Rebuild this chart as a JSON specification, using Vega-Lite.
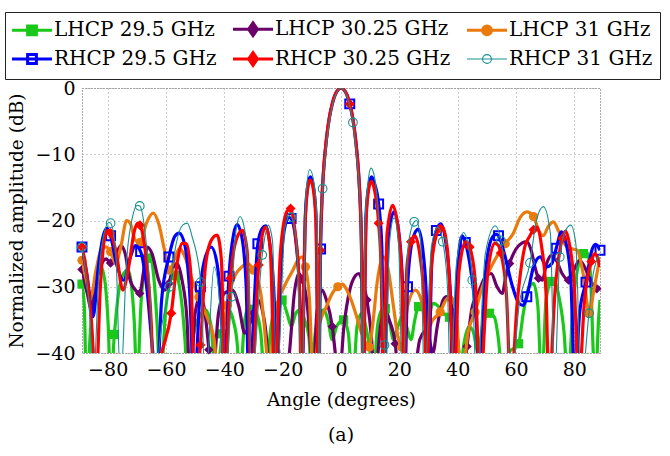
{
  "$schema": "https://vega.github.io/schema/vega-lite/v6.json",
  "width": 518,
  "height": 265,
  "autosize": {"type": "none"},
  "padding": {"left": 82, "top": 88, "right": 70, "bottom": 103},
  "background": "white",
  "config": {
    "font": "DejaVu Serif",
    "view": {"stroke": "#555", "strokeDash": [1, 2], "strokeWidth": 1},
    "axis": {
      "labelFont": "DejaVu Serif", "labelFontSize": 19, "labelColor": "#000",
      "titleFont": "DejaVu Serif", "titleFontSize": 18.5, "titleFontWeight": "normal", "titleColor": "#000",
      "grid": true, "gridColor": "#999", "gridDash": [1, 3], "gridWidth": 1,
      "domain": false, "ticks": false
    },
    "legend": {
      "symbolSize": 1600, "labelFont": "DejaVu Serif", "labelFontSize": 20, "labelColor": "#000",
      "symbolOffset": 10, "labelOffset": 12, "columnPadding": 10, "rowPadding": 4, "padding": 7,
      "strokeColor": "#222", "fillColor": "#fff", "labelLimit": 400
    }
  },
  "datasets": {
    "curves": [
      {"s":"LHCP 29.5 GHz","a":-88.8,"db":-29.6,"m":1},{"s":"LHCP 29.5 GHz","a":-88.0,"db":-33},{"s":"LHCP 29.5 GHz","a":-87.3,"db":-45},{"s":"LHCP 29.5 GHz","a":-85.5,"db":-34},{"s":"LHCP 29.5 GHz","a":-83.8,"db":-28.5},{"s":"LHCP 29.5 GHz","a":-82.3,"db":-27},{"s":"LHCP 29.5 GHz","a":-81.0,"db":-29},{"s":"LHCP 29.5 GHz","a":-79.8,"db":-36},{"s":"LHCP 29.5 GHz","a":-79.0,"db":-45},{"s":"LHCP 29.5 GHz","a":-77.7,"db":-37.2,"m":1},{"s":"LHCP 29.5 GHz","a":-76.3,"db":-31},{"s":"LHCP 29.5 GHz","a":-74.5,"db":-28},{"s":"LHCP 29.5 GHz","a":-73.0,"db":-27.5},{"s":"LHCP 29.5 GHz","a":-71.8,"db":-30},{"s":"LHCP 29.5 GHz","a":-70.8,"db":-36},{"s":"LHCP 29.5 GHz","a":-70.0,"db":-45},{"s":"LHCP 29.5 GHz","a":-68.5,"db":-32},{"s":"LHCP 29.5 GHz","a":-66.6,"db":-25.7,"m":1},{"s":"LHCP 29.5 GHz","a":-65.5,"db":-25.2},{"s":"LHCP 29.5 GHz","a":-64.3,"db":-28},{"s":"LHCP 29.5 GHz","a":-63.0,"db":-36},{"s":"LHCP 29.5 GHz","a":-62.0,"db":-45},{"s":"LHCP 29.5 GHz","a":-60.0,"db":-33},{"s":"LHCP 29.5 GHz","a":-58.0,"db":-28.5},{"s":"LHCP 29.5 GHz","a":-57.0,"db":-28},{"s":"LHCP 29.5 GHz","a":-56.4,"db":-28.3,"m":1},{"s":"LHCP 29.5 GHz","a":-55.0,"db":-31},{"s":"LHCP 29.5 GHz","a":-53.5,"db":-38},{"s":"LHCP 29.5 GHz","a":-52.5,"db":-45},{"s":"LHCP 29.5 GHz","a":-50.5,"db":-37},{"s":"LHCP 29.5 GHz","a":-48.5,"db":-34.5},{"s":"LHCP 29.5 GHz","a":-46.5,"db":-33.5},{"s":"LHCP 29.5 GHz","a":-44.5,"db":-36},{"s":"LHCP 29.5 GHz","a":-43.0,"db":-45},{"s":"LHCP 29.5 GHz","a":-40.7,"db":-37.1,"m":1},{"s":"LHCP 29.5 GHz","a":-38.5,"db":-33.5},{"s":"LHCP 29.5 GHz","a":-37.0,"db":-35},{"s":"LHCP 29.5 GHz","a":-35.5,"db":-39},{"s":"LHCP 29.5 GHz","a":-34.8,"db":-45},{"s":"LHCP 29.5 GHz","a":-33.0,"db":-35},{"s":"LHCP 29.5 GHz","a":-31.5,"db":-33},{"s":"LHCP 29.5 GHz","a":-30.5,"db":-33.4,"m":1},{"s":"LHCP 29.5 GHz","a":-29.0,"db":-34},{"s":"LHCP 29.5 GHz","a":-27.5,"db":-37},{"s":"LHCP 29.5 GHz","a":-26.0,"db":-45},{"s":"LHCP 29.5 GHz","a":-24.0,"db":-36},{"s":"LHCP 29.5 GHz","a":-22.0,"db":-32.5},{"s":"LHCP 29.5 GHz","a":-20.2,"db":-32.0,"m":1},{"s":"LHCP 29.5 GHz","a":-18.5,"db":-34},{"s":"LHCP 29.5 GHz","a":-17.0,"db":-36},{"s":"LHCP 29.5 GHz","a":-15.5,"db":-34},{"s":"LHCP 29.5 GHz","a":-14.0,"db":-33.5},{"s":"LHCP 29.5 GHz","a":-12.5,"db":-35},{"s":"LHCP 29.5 GHz","a":-11.0,"db":-37.5},{"s":"LHCP 29.5 GHz","a":-10.0,"db":-45},{"s":"LHCP 29.5 GHz","a":-9.3,"db":-39.1,"m":1},{"s":"LHCP 29.5 GHz","a":-8.0,"db":-35},{"s":"LHCP 29.5 GHz","a":-6.0,"db":-33.5},{"s":"LHCP 29.5 GHz","a":-4.5,"db":-35},{"s":"LHCP 29.5 GHz","a":-3.0,"db":-38},{"s":"LHCP 29.5 GHz","a":-1.5,"db":-36},{"s":"LHCP 29.5 GHz","a":0.9,"db":-35.0,"m":1},{"s":"LHCP 29.5 GHz","a":2.5,"db":-37},{"s":"LHCP 29.5 GHz","a":4.0,"db":-45},{"s":"LHCP 29.5 GHz","a":5.5,"db":-36},{"s":"LHCP 29.5 GHz","a":7.0,"db":-34},{"s":"LHCP 29.5 GHz","a":8.5,"db":-36},{"s":"LHCP 29.5 GHz","a":10.0,"db":-40},{"s":"LHCP 29.5 GHz","a":11.0,"db":-45},{"s":"LHCP 29.5 GHz","a":12.5,"db":-36},{"s":"LHCP 29.5 GHz","a":14.0,"db":-33.5},{"s":"LHCP 29.5 GHz","a":15.2,"db":-33.3,"m":1},{"s":"LHCP 29.5 GHz","a":16.5,"db":-35},{"s":"LHCP 29.5 GHz","a":18.0,"db":-38},{"s":"LHCP 29.5 GHz","a":19.5,"db":-36},{"s":"LHCP 29.5 GHz","a":21.0,"db":-34.5},{"s":"LHCP 29.5 GHz","a":22.5,"db":-36},{"s":"LHCP 29.5 GHz","a":24.0,"db":-38},{"s":"LHCP 29.5 GHz","a":25.3,"db":-35},{"s":"LHCP 29.5 GHz","a":26.6,"db":-33.0,"m":1},{"s":"LHCP 29.5 GHz","a":28.2,"db":-33.2},{"s":"LHCP 29.5 GHz","a":29.8,"db":-35},{"s":"LHCP 29.5 GHz","a":31.5,"db":-32.5},{"s":"LHCP 29.5 GHz","a":33.0,"db":-32.8},{"s":"LHCP 29.5 GHz","a":35.0,"db":-34},{"s":"LHCP 29.5 GHz","a":37.2,"db":-34.6,"m":1},{"s":"LHCP 29.5 GHz","a":39.0,"db":-38},{"s":"LHCP 29.5 GHz","a":40.5,"db":-45},{"s":"LHCP 29.5 GHz","a":42.0,"db":-39},{"s":"LHCP 29.5 GHz","a":44.0,"db":-36},{"s":"LHCP 29.5 GHz","a":45.5,"db":-37},{"s":"LHCP 29.5 GHz","a":47.0,"db":-40},{"s":"LHCP 29.5 GHz","a":48.5,"db":-36},{"s":"LHCP 29.5 GHz","a":50.9,"db":-34.0,"m":1},{"s":"LHCP 29.5 GHz","a":52.5,"db":-34.5},{"s":"LHCP 29.5 GHz","a":54.0,"db":-38},{"s":"LHCP 29.5 GHz","a":55.5,"db":-45},{"s":"LHCP 29.5 GHz","a":57.5,"db":-40},{"s":"LHCP 29.5 GHz","a":60.9,"db":-38.6,"m":1},{"s":"LHCP 29.5 GHz","a":62.5,"db":-34},{"s":"LHCP 29.5 GHz","a":64.5,"db":-30},{"s":"LHCP 29.5 GHz","a":66.0,"db":-29.5},{"s":"LHCP 29.5 GHz","a":67.5,"db":-33},{"s":"LHCP 29.5 GHz","a":68.8,"db":-45},{"s":"LHCP 29.5 GHz","a":70.3,"db":-32},{"s":"LHCP 29.5 GHz","a":71.9,"db":-29.2,"m":1},{"s":"LHCP 29.5 GHz","a":72.8,"db":-28.8},{"s":"LHCP 29.5 GHz","a":74.5,"db":-31},{"s":"LHCP 29.5 GHz","a":76.5,"db":-37},{"s":"LHCP 29.5 GHz","a":77.8,"db":-45},{"s":"LHCP 29.5 GHz","a":79.5,"db":-33},{"s":"LHCP 29.5 GHz","a":81.5,"db":-26.5},{"s":"LHCP 29.5 GHz","a":83.1,"db":-25.0,"m":1},{"s":"LHCP 29.5 GHz","a":84.3,"db":-24.8},{"s":"LHCP 29.5 GHz","a":85.5,"db":-28},{"s":"LHCP 29.5 GHz","a":86.5,"db":-40},{"s":"LHCP 29.5 GHz","a":87.2,"db":-45},{"s":"LHCP 29.5 GHz","a":88.3,"db":-35},{"s":"LHCP 29.5 GHz","a":88.8,"db":-32},

      {"s":"LHCP 30.25 GHz","a":-88.8,"db":-27.4,"m":1},{"s":"LHCP 30.25 GHz","a":-87.0,"db":-31},{"s":"LHCP 30.25 GHz","a":-85.5,"db":-33.5},{"s":"LHCP 30.25 GHz","a":-83.8,"db":-29},{"s":"LHCP 30.25 GHz","a":-82.0,"db":-26.5},{"s":"LHCP 30.25 GHz","a":-80.5,"db":-25.8},{"s":"LHCP 30.25 GHz","a":-79.0,"db":-26.4,"m":1},{"s":"LHCP 30.25 GHz","a":-77.0,"db":-25},{"s":"LHCP 30.25 GHz","a":-75.5,"db":-23.8},{"s":"LHCP 30.25 GHz","a":-74.0,"db":-25},{"s":"LHCP 30.25 GHz","a":-72.6,"db":-28.5},{"s":"LHCP 30.25 GHz","a":-70.5,"db":-30.5},{"s":"LHCP 30.25 GHz","a":-69.0,"db":-31.0,"m":1},{"s":"LHCP 30.25 GHz","a":-67.8,"db":-28},{"s":"LHCP 30.25 GHz","a":-66.4,"db":-24.0},{"s":"LHCP 30.25 GHz","a":-64.8,"db":-25},{"s":"LHCP 30.25 GHz","a":-62.5,"db":-29},{"s":"LHCP 30.25 GHz","a":-60.5,"db":-30.5},{"s":"LHCP 30.25 GHz","a":-59.0,"db":-29.5,"m":1},{"s":"LHCP 30.25 GHz","a":-57.5,"db":-27},{"s":"LHCP 30.25 GHz","a":-56.2,"db":-26.5},{"s":"LHCP 30.25 GHz","a":-54.5,"db":-29},{"s":"LHCP 30.25 GHz","a":-52.8,"db":-35},{"s":"LHCP 30.25 GHz","a":-51.7,"db":-45},{"s":"LHCP 30.25 GHz","a":-50.0,"db":-34},{"s":"LHCP 30.25 GHz","a":-48.3,"db":-31.5},{"s":"LHCP 30.25 GHz","a":-47.0,"db":-33},{"s":"LHCP 30.25 GHz","a":-45.3,"db":-39.5,"m":1},{"s":"LHCP 30.25 GHz","a":-44.3,"db":-45},{"s":"LHCP 30.25 GHz","a":-42.0,"db":-34},{"s":"LHCP 30.25 GHz","a":-40.0,"db":-31},{"s":"LHCP 30.25 GHz","a":-37.3,"db":-30.5},{"s":"LHCP 30.25 GHz","a":-35.0,"db":-33},{"s":"LHCP 30.25 GHz","a":-33.0,"db":-37},{"s":"LHCP 30.25 GHz","a":-31.6,"db":-36},{"s":"LHCP 30.25 GHz","a":-30.1,"db":-34.0,"m":1},{"s":"LHCP 30.25 GHz","a":-28.5,"db":-32},{"s":"LHCP 30.25 GHz","a":-27.0,"db":-33.5},{"s":"LHCP 30.25 GHz","a":-25.5,"db":-38},{"s":"LHCP 30.25 GHz","a":-24.5,"db":-45},{"s":"LHCP 30.25 GHz","a":-22.0,"db":-38},{"s":"LHCP 30.25 GHz","a":-20.0,"db":-45},{"s":"LHCP 30.25 GHz","a":-17.7,"db":-40},{"s":"LHCP 30.25 GHz","a":-16.0,"db":-31},{"s":"LHCP 30.25 GHz","a":-14.5,"db":-28},{"s":"LHCP 30.25 GHz","a":-13.3,"db":-28.9,"m":1},{"s":"LHCP 30.25 GHz","a":-11.5,"db":-33},{"s":"LHCP 30.25 GHz","a":-10.3,"db":-40},{"s":"LHCP 30.25 GHz","a":-9.5,"db":-45},{"s":"LHCP 30.25 GHz","a":-8.3,"db":-34},{"s":"LHCP 30.25 GHz","a":-6.5,"db":-30.5},{"s":"LHCP 30.25 GHz","a":-5.0,"db":-32},{"s":"LHCP 30.25 GHz","a":-3.0,"db":-36.0,"m":1},{"s":"LHCP 30.25 GHz","a":-1.5,"db":-42},{"s":"LHCP 30.25 GHz","a":-0.8,"db":-45},{"s":"LHCP 30.25 GHz","a":1.0,"db":-36},{"s":"LHCP 30.25 GHz","a":3.0,"db":-30.5},{"s":"LHCP 30.25 GHz","a":5.0,"db":-28.3},{"s":"LHCP 30.25 GHz","a":6.1,"db":-28.0},{"s":"LHCP 30.25 GHz","a":7.5,"db":-29.5},{"s":"LHCP 30.25 GHz","a":8.9,"db":-32.0,"m":1},{"s":"LHCP 30.25 GHz","a":10.5,"db":-38},{"s":"LHCP 30.25 GHz","a":11.5,"db":-45},{"s":"LHCP 30.25 GHz","a":13.5,"db":-36},{"s":"LHCP 30.25 GHz","a":15.0,"db":-33.5},{"s":"LHCP 30.25 GHz","a":16.5,"db":-35},{"s":"LHCP 30.25 GHz","a":18.6,"db":-38.6,"m":1},{"s":"LHCP 30.25 GHz","a":20.0,"db":-45},{"s":"LHCP 30.25 GHz","a":22.0,"db":-40},{"s":"LHCP 30.25 GHz","a":24.5,"db":-45},{"s":"LHCP 30.25 GHz","a":27.0,"db":-38},{"s":"LHCP 30.25 GHz","a":29.5,"db":-36.5},{"s":"LHCP 30.25 GHz","a":31.5,"db":-40},{"s":"LHCP 30.25 GHz","a":33.0,"db":-36},{"s":"LHCP 30.25 GHz","a":35.0,"db":-32},{"s":"LHCP 30.25 GHz","a":36.3,"db":-31.5},{"s":"LHCP 30.25 GHz","a":38.0,"db":-33},{"s":"LHCP 30.25 GHz","a":40.0,"db":-38},{"s":"LHCP 30.25 GHz","a":41.5,"db":-45},{"s":"LHCP 30.25 GHz","a":43.2,"db":-39.0,"m":1},{"s":"LHCP 30.25 GHz","a":45.0,"db":-33},{"s":"LHCP 30.25 GHz","a":47.0,"db":-31},{"s":"LHCP 30.25 GHz","a":49.5,"db":-28.5},{"s":"LHCP 30.25 GHz","a":51.5,"db":-28},{"s":"LHCP 30.25 GHz","a":53.5,"db":-30},{"s":"LHCP 30.25 GHz","a":55.3,"db":-31},{"s":"LHCP 30.25 GHz","a":56.5,"db":-28.5},{"s":"LHCP 30.25 GHz","a":57.8,"db":-26.5,"m":1},{"s":"LHCP 30.25 GHz","a":60.0,"db":-24.3},{"s":"LHCP 30.25 GHz","a":62.0,"db":-23.4},{"s":"LHCP 30.25 GHz","a":63.6,"db":-23.2},{"s":"LHCP 30.25 GHz","a":65.2,"db":-24.5},{"s":"LHCP 30.25 GHz","a":66.5,"db":-27},{"s":"LHCP 30.25 GHz","a":67.7,"db":-28.7,"m":1},{"s":"LHCP 30.25 GHz","a":69.0,"db":-29},{"s":"LHCP 30.25 GHz","a":70.5,"db":-26.5},{"s":"LHCP 30.25 GHz","a":72.0,"db":-25.3},{"s":"LHCP 30.25 GHz","a":73.8,"db":-26},{"s":"LHCP 30.25 GHz","a":75.8,"db":-28},{"s":"LHCP 30.25 GHz","a":78.0,"db":-29.0,"m":1},{"s":"LHCP 30.25 GHz","a":79.8,"db":-27.5},{"s":"LHCP 30.25 GHz","a":81.8,"db":-26},{"s":"LHCP 30.25 GHz","a":83.5,"db":-27},{"s":"LHCP 30.25 GHz","a":85.5,"db":-29},{"s":"LHCP 30.25 GHz","a":87.7,"db":-30.3,"m":1},{"s":"LHCP 30.25 GHz","a":88.8,"db":-30},

      {"s":"LHCP 31 GHz","a":-88.8,"db":-26.0,"m":1},{"s":"LHCP 31 GHz","a":-87.3,"db":-29},{"s":"LHCP 31 GHz","a":-85.8,"db":-31.5},{"s":"LHCP 31 GHz","a":-84.0,"db":-27.5},{"s":"LHCP 31 GHz","a":-82.3,"db":-24.5},{"s":"LHCP 31 GHz","a":-80.6,"db":-24.0},{"s":"LHCP 31 GHz","a":-79.0,"db":-24.7,"m":1},{"s":"LHCP 31 GHz","a":-77.3,"db":-26.5},{"s":"LHCP 31 GHz","a":-75.5,"db":-24},{"s":"LHCP 31 GHz","a":-73.5,"db":-20},{"s":"LHCP 31 GHz","a":-72.2,"db":-20.5},{"s":"LHCP 31 GHz","a":-70.5,"db":-23},{"s":"LHCP 31 GHz","a":-68.8,"db":-23.3,"m":1},{"s":"LHCP 31 GHz","a":-66.8,"db":-20.5},{"s":"LHCP 31 GHz","a":-64.4,"db":-18.9},{"s":"LHCP 31 GHz","a":-62.5,"db":-20.5},{"s":"LHCP 31 GHz","a":-60.5,"db":-24.5},{"s":"LHCP 31 GHz","a":-58.8,"db":-27.5,"m":1},{"s":"LHCP 31 GHz","a":-56.8,"db":-25.5},{"s":"LHCP 31 GHz","a":-55.3,"db":-24.2},{"s":"LHCP 31 GHz","a":-53.5,"db":-25.5},{"s":"LHCP 31 GHz","a":-51.0,"db":-29},{"s":"LHCP 31 GHz","a":-48.7,"db":-31.6,"m":1},{"s":"LHCP 31 GHz","a":-46.0,"db":-34.5},{"s":"LHCP 31 GHz","a":-43.5,"db":-38},{"s":"LHCP 31 GHz","a":-42.0,"db":-45},{"s":"LHCP 31 GHz","a":-40.4,"db":-37},{"s":"LHCP 31 GHz","a":-39.0,"db":-32.8,"m":1},{"s":"LHCP 31 GHz","a":-37.0,"db":-29},{"s":"LHCP 31 GHz","a":-34.0,"db":-27},{"s":"LHCP 31 GHz","a":-32.0,"db":-26.5},{"s":"LHCP 31 GHz","a":-30.0,"db":-27.5,"m":1},{"s":"LHCP 31 GHz","a":-27.5,"db":-31},{"s":"LHCP 31 GHz","a":-25.5,"db":-40},{"s":"LHCP 31 GHz","a":-24.6,"db":-45},{"s":"LHCP 31 GHz","a":-23.3,"db":-37},{"s":"LHCP 31 GHz","a":-22.0,"db":-33.0,"m":1},{"s":"LHCP 31 GHz","a":-19.5,"db":-30},{"s":"LHCP 31 GHz","a":-16.5,"db":-27.5},{"s":"LHCP 31 GHz","a":-14.5,"db":-25.8},{"s":"LHCP 31 GHz","a":-13.3,"db":-25.5},{"s":"LHCP 31 GHz","a":-12.2,"db":-27.0,"m":1},{"s":"LHCP 31 GHz","a":-10.8,"db":-32},{"s":"LHCP 31 GHz","a":-9.5,"db":-45},{"s":"LHCP 31 GHz","a":-7.5,"db":-36},{"s":"LHCP 31 GHz","a":-5.0,"db":-33},{"s":"LHCP 31 GHz","a":-3.0,"db":-31},{"s":"LHCP 31 GHz","a":-1.1,"db":-30.0,"m":1},{"s":"LHCP 31 GHz","a":0.5,"db":-29.6},{"s":"LHCP 31 GHz","a":2.0,"db":-30.5},{"s":"LHCP 31 GHz","a":3.5,"db":-32},{"s":"LHCP 31 GHz","a":5.0,"db":-34},{"s":"LHCP 31 GHz","a":7.5,"db":-37.5},{"s":"LHCP 31 GHz","a":9.7,"db":-39.1,"m":1},{"s":"LHCP 31 GHz","a":10.8,"db":-36},{"s":"LHCP 31 GHz","a":12.5,"db":-29},{"s":"LHCP 31 GHz","a":14.5,"db":-25.5},{"s":"LHCP 31 GHz","a":16.0,"db":-27},{"s":"LHCP 31 GHz","a":18.0,"db":-33},{"s":"LHCP 31 GHz","a":19.5,"db":-37.5},{"s":"LHCP 31 GHz","a":20.8,"db":-39.1,"m":1},{"s":"LHCP 31 GHz","a":22.8,"db":-33},{"s":"LHCP 31 GHz","a":25.5,"db":-30.5},{"s":"LHCP 31 GHz","a":27.5,"db":-32},{"s":"LHCP 31 GHz","a":29.5,"db":-36.5},{"s":"LHCP 31 GHz","a":31.5,"db":-35},{"s":"LHCP 31 GHz","a":34.0,"db":-33.8,"m":1},{"s":"LHCP 31 GHz","a":36.0,"db":-32},{"s":"LHCP 31 GHz","a":37.6,"db":-31.5},{"s":"LHCP 31 GHz","a":39.5,"db":-34},{"s":"LHCP 31 GHz","a":41.3,"db":-45},{"s":"LHCP 31 GHz","a":43.5,"db":-37},{"s":"LHCP 31 GHz","a":46.0,"db":-33.8,"m":1},{"s":"LHCP 31 GHz","a":48.5,"db":-30},{"s":"LHCP 31 GHz","a":51.5,"db":-27},{"s":"LHCP 31 GHz","a":54.0,"db":-25},{"s":"LHCP 31 GHz","a":56.3,"db":-23.5,"m":1},{"s":"LHCP 31 GHz","a":59.0,"db":-22},{"s":"LHCP 31 GHz","a":61.5,"db":-19.5},{"s":"LHCP 31 GHz","a":63.7,"db":-18.7},{"s":"LHCP 31 GHz","a":66.0,"db":-19.4,"m":1},{"s":"LHCP 31 GHz","a":67.8,"db":-21.5},{"s":"LHCP 31 GHz","a":69.3,"db":-22.3},{"s":"LHCP 31 GHz","a":71.2,"db":-20.8},{"s":"LHCP 31 GHz","a":72.8,"db":-20.2},{"s":"LHCP 31 GHz","a":74.5,"db":-21.5},{"s":"LHCP 31 GHz","a":75.8,"db":-22.8,"m":1},{"s":"LHCP 31 GHz","a":77.5,"db":-24},{"s":"LHCP 31 GHz","a":79.5,"db":-24.3},{"s":"LHCP 31 GHz","a":81.0,"db":-24.5},{"s":"LHCP 31 GHz","a":83.0,"db":-28},{"s":"LHCP 31 GHz","a":85.2,"db":-34.0,"m":1},{"s":"LHCP 31 GHz","a":86.5,"db":-31},{"s":"LHCP 31 GHz","a":88.8,"db":-25.5},

      {"s":"RHCP 29.5 GHz","a":-88.8,"db":-24.0,"m":1},{"s":"RHCP 29.5 GHz","a":-87.0,"db":-28.5},{"s":"RHCP 29.5 GHz","a":-85.0,"db":-34.5},{"s":"RHCP 29.5 GHz","a":-83.2,"db":-27.0},{"s":"RHCP 29.5 GHz","a":-81.5,"db":-22.3},{"s":"RHCP 29.5 GHz","a":-80.2,"db":-21.2},{"s":"RHCP 29.5 GHz","a":-79.0,"db":-22.3,"m":1},{"s":"RHCP 29.5 GHz","a":-77.0,"db":-26.5},{"s":"RHCP 29.5 GHz","a":-74.5,"db":-29.0},{"s":"RHCP 29.5 GHz","a":-72.2,"db":-25.5},{"s":"RHCP 29.5 GHz","a":-70.5,"db":-23.8},{"s":"RHCP 29.5 GHz","a":-68.7,"db":-24.7,"m":1},{"s":"RHCP 29.5 GHz","a":-66.5,"db":-30.5},{"s":"RHCP 29.5 GHz","a":-64.5,"db":-40},{"s":"RHCP 29.5 GHz","a":-63.2,"db":-45},{"s":"RHCP 29.5 GHz","a":-61.5,"db":-32},{"s":"RHCP 29.5 GHz","a":-59.0,"db":-25.5,"m":1},{"s":"RHCP 29.5 GHz","a":-57.0,"db":-22.4},{"s":"RHCP 29.5 GHz","a":-55.5,"db":-21.9},{"s":"RHCP 29.5 GHz","a":-53.5,"db":-23.8},{"s":"RHCP 29.5 GHz","a":-52.0,"db":-30},{"s":"RHCP 29.5 GHz","a":-50.3,"db":-45},{"s":"RHCP 29.5 GHz","a":-48.2,"db":-30.0,"m":1},{"s":"RHCP 29.5 GHz","a":-46.5,"db":-25.5},{"s":"RHCP 29.5 GHz","a":-44.5,"db":-24.0},{"s":"RHCP 29.5 GHz","a":-42.5,"db":-26.5},{"s":"RHCP 29.5 GHz","a":-40.8,"db":-36},{"s":"RHCP 29.5 GHz","a":-40.0,"db":-45},{"s":"RHCP 29.5 GHz","a":-38.4,"db":-28.4,"m":1},{"s":"RHCP 29.5 GHz","a":-36.8,"db":-22.0},{"s":"RHCP 29.5 GHz","a":-35.6,"db":-20.6},{"s":"RHCP 29.5 GHz","a":-34.0,"db":-22.5},{"s":"RHCP 29.5 GHz","a":-32.5,"db":-30},{"s":"RHCP 29.5 GHz","a":-31.6,"db":-45},{"s":"RHCP 29.5 GHz","a":-28.5,"db":-23.5,"m":1},{"s":"RHCP 29.5 GHz","a":-27.0,"db":-21.2},{"s":"RHCP 29.5 GHz","a":-25.8,"db":-20.8},{"s":"RHCP 29.5 GHz","a":-24.3,"db":-24.0},{"s":"RHCP 29.5 GHz","a":-22.8,"db":-33},{"s":"RHCP 29.5 GHz","a":-22.2,"db":-45},{"s":"RHCP 29.5 GHz","a":-20.5,"db":-26},{"s":"RHCP 29.5 GHz","a":-18.8,"db":-20.2},{"s":"RHCP 29.5 GHz","a":-17.8,"db":-19.5},{"s":"RHCP 29.5 GHz","a":-17.1,"db":-19.7,"m":1},{"s":"RHCP 29.5 GHz","a":-15.5,"db":-23},{"s":"RHCP 29.5 GHz","a":-14.0,"db":-33},{"s":"RHCP 29.5 GHz","a":-13.4,"db":-45},{"s":"RHCP 29.5 GHz","a":-12.2,"db":-19},{"s":"RHCP 29.5 GHz","a":-11.2,"db":-14.2},{"s":"RHCP 29.5 GHz","a":-10.5,"db":-13.4},{"s":"RHCP 29.5 GHz","a":-9.6,"db":-14.5},{"s":"RHCP 29.5 GHz","a":-8.6,"db":-19},{"s":"RHCP 29.5 GHz","a":-7.6,"db":-45},{"s":"RHCP 29.5 GHz","a":-7.0,"db":-24.3,"m":1},{"s":"RHCP 29.5 GHz","a":-6.5,"db":-16.5},{"s":"RHCP 29.5 GHz","a":-6.0,"db":-12.6},{"s":"RHCP 29.5 GHz","a":-5.0,"db":-7.7},{"s":"RHCP 29.5 GHz","a":-4.0,"db":-4.5},{"s":"RHCP 29.5 GHz","a":-3.0,"db":-2.4},{"s":"RHCP 29.5 GHz","a":-2.0,"db":-1.0},{"s":"RHCP 29.5 GHz","a":-1.0,"db":-0.26},{"s":"RHCP 29.5 GHz","a":0,"db":0},{"s":"RHCP 29.5 GHz","a":1.0,"db":-0.26},{"s":"RHCP 29.5 GHz","a":2.0,"db":-1.0},{"s":"RHCP 29.5 GHz","a":3.0,"db":-2.4,"m":1},{"s":"RHCP 29.5 GHz","a":4.0,"db":-4.5},{"s":"RHCP 29.5 GHz","a":5.0,"db":-7.7},{"s":"RHCP 29.5 GHz","a":6.0,"db":-12.6},{"s":"RHCP 29.5 GHz","a":6.5,"db":-16.5},{"s":"RHCP 29.5 GHz","a":7.0,"db":-23},{"s":"RHCP 29.5 GHz","a":7.6,"db":-45},{"s":"RHCP 29.5 GHz","a":8.6,"db":-19},{"s":"RHCP 29.5 GHz","a":9.6,"db":-14.5},{"s":"RHCP 29.5 GHz","a":10.5,"db":-13.4},{"s":"RHCP 29.5 GHz","a":11.4,"db":-14.3},{"s":"RHCP 29.5 GHz","a":12.9,"db":-17.5,"m":1},{"s":"RHCP 29.5 GHz","a":14.0,"db":-24},{"s":"RHCP 29.5 GHz","a":14.8,"db":-45},{"s":"RHCP 29.5 GHz","a":16.3,"db":-22},{"s":"RHCP 29.5 GHz","a":18.2,"db":-18.7},{"s":"RHCP 29.5 GHz","a":20.0,"db":-22.5},{"s":"RHCP 29.5 GHz","a":21.3,"db":-32},{"s":"RHCP 29.5 GHz","a":21.8,"db":-45},{"s":"RHCP 29.5 GHz","a":22.8,"db":-30.0,"m":1},{"s":"RHCP 29.5 GHz","a":24.5,"db":-23},{"s":"RHCP 29.5 GHz","a":26.5,"db":-21.3},{"s":"RHCP 29.5 GHz","a":28.2,"db":-25},{"s":"RHCP 29.5 GHz","a":29.4,"db":-33},{"s":"RHCP 29.5 GHz","a":29.9,"db":-45},{"s":"RHCP 29.5 GHz","a":31.2,"db":-25.5},{"s":"RHCP 29.5 GHz","a":32.7,"db":-21.5,"m":1},{"s":"RHCP 29.5 GHz","a":34.2,"db":-20.5},{"s":"RHCP 29.5 GHz","a":36.0,"db":-23.5},{"s":"RHCP 29.5 GHz","a":37.6,"db":-32},{"s":"RHCP 29.5 GHz","a":38.3,"db":-45},{"s":"RHCP 29.5 GHz","a":40.0,"db":-27},{"s":"RHCP 29.5 GHz","a":41.6,"db":-22.3},{"s":"RHCP 29.5 GHz","a":42.6,"db":-23.3,"m":1},{"s":"RHCP 29.5 GHz","a":44.5,"db":-27.5},{"s":"RHCP 29.5 GHz","a":46.5,"db":-36},{"s":"RHCP 29.5 GHz","a":47.5,"db":-45},{"s":"RHCP 29.5 GHz","a":49.5,"db":-28},{"s":"RHCP 29.5 GHz","a":51.8,"db":-22.6},{"s":"RHCP 29.5 GHz","a":53.2,"db":-22.1},{"s":"RHCP 29.5 GHz","a":54.0,"db":-22.3,"m":1},{"s":"RHCP 29.5 GHz","a":56.0,"db":-25},{"s":"RHCP 29.5 GHz","a":58.5,"db":-29.5},{"s":"RHCP 29.5 GHz","a":61.0,"db":-32.5},{"s":"RHCP 29.5 GHz","a":62.5,"db":-32.8},{"s":"RHCP 29.5 GHz","a":63.7,"db":-31.5,"m":1},{"s":"RHCP 29.5 GHz","a":66.0,"db":-27},{"s":"RHCP 29.5 GHz","a":68.3,"db":-25.5},{"s":"RHCP 29.5 GHz","a":70.5,"db":-27},{"s":"RHCP 29.5 GHz","a":72.3,"db":-26.5},{"s":"RHCP 29.5 GHz","a":73.8,"db":-24.2,"m":1},{"s":"RHCP 29.5 GHz","a":75.6,"db":-21.7},{"s":"RHCP 29.5 GHz","a":77.2,"db":-23.5},{"s":"RHCP 29.5 GHz","a":78.8,"db":-29},{"s":"RHCP 29.5 GHz","a":80.2,"db":-45},{"s":"RHCP 29.5 GHz","a":81.8,"db":-34},{"s":"RHCP 29.5 GHz","a":84.0,"db":-29.3,"m":1},{"s":"RHCP 29.5 GHz","a":86.0,"db":-24.5},{"s":"RHCP 29.5 GHz","a":87.3,"db":-23.6},{"s":"RHCP 29.5 GHz","a":88.8,"db":-24.5,"m":1},

      {"s":"RHCP 30.25 GHz","a":-88.8,"db":-24.0,"m":1},{"s":"RHCP 30.25 GHz","a":-87.2,"db":-28},{"s":"RHCP 30.25 GHz","a":-85.6,"db":-35},{"s":"RHCP 30.25 GHz","a":-84.0,"db":-45},{"s":"RHCP 30.25 GHz","a":-82.5,"db":-30},{"s":"RHCP 30.25 GHz","a":-81.0,"db":-22.5},{"s":"RHCP 30.25 GHz","a":-80.0,"db":-21.5},{"s":"RHCP 30.25 GHz","a":-79.0,"db":-21.9,"m":1},{"s":"RHCP 30.25 GHz","a":-77.0,"db":-25},{"s":"RHCP 30.25 GHz","a":-74.8,"db":-30.5},{"s":"RHCP 30.25 GHz","a":-72.8,"db":-27},{"s":"RHCP 30.25 GHz","a":-70.8,"db":-21.5},{"s":"RHCP 30.25 GHz","a":-69.6,"db":-20.4},{"s":"RHCP 30.25 GHz","a":-68.9,"db":-20.7,"m":1},{"s":"RHCP 30.25 GHz","a":-67.0,"db":-25},{"s":"RHCP 30.25 GHz","a":-65.0,"db":-36},{"s":"RHCP 30.25 GHz","a":-64.2,"db":-45},{"s":"RHCP 30.25 GHz","a":-61.5,"db":-40},{"s":"RHCP 30.25 GHz","a":-58.2,"db":-34.0,"m":1},{"s":"RHCP 30.25 GHz","a":-56.2,"db":-26.5},{"s":"RHCP 30.25 GHz","a":-54.3,"db":-23.4},{"s":"RHCP 30.25 GHz","a":-53.0,"db":-23.5},{"s":"RHCP 30.25 GHz","a":-51.5,"db":-28},{"s":"RHCP 30.25 GHz","a":-50.2,"db":-45},{"s":"RHCP 30.25 GHz","a":-48.2,"db":-38.8,"m":1},{"s":"RHCP 30.25 GHz","a":-46.5,"db":-27},{"s":"RHCP 30.25 GHz","a":-44.5,"db":-23.0},{"s":"RHCP 30.25 GHz","a":-42.5,"db":-22.2},{"s":"RHCP 30.25 GHz","a":-41.0,"db":-26},{"s":"RHCP 30.25 GHz","a":-39.8,"db":-45},{"s":"RHCP 30.25 GHz","a":-37.9,"db":-28.7,"m":1},{"s":"RHCP 30.25 GHz","a":-35.6,"db":-22.5},{"s":"RHCP 30.25 GHz","a":-33.8,"db":-21.5},{"s":"RHCP 30.25 GHz","a":-32.2,"db":-24.5},{"s":"RHCP 30.25 GHz","a":-30.8,"db":-45},{"s":"RHCP 30.25 GHz","a":-28.2,"db":-26.7,"m":1},{"s":"RHCP 30.25 GHz","a":-26.8,"db":-21.8},{"s":"RHCP 30.25 GHz","a":-25.8,"db":-21.0},{"s":"RHCP 30.25 GHz","a":-24.3,"db":-24},{"s":"RHCP 30.25 GHz","a":-22.6,"db":-45},{"s":"RHCP 30.25 GHz","a":-20.8,"db":-25},{"s":"RHCP 30.25 GHz","a":-18.5,"db":-18.6},{"s":"RHCP 30.25 GHz","a":-17.3,"db":-18.2,"m":1},{"s":"RHCP 30.25 GHz","a":-15.8,"db":-21.5},{"s":"RHCP 30.25 GHz","a":-14.3,"db":-30},{"s":"RHCP 30.25 GHz","a":-13.6,"db":-45},{"s":"RHCP 30.25 GHz","a":-12.2,"db":-19.5},{"s":"RHCP 30.25 GHz","a":-11.2,"db":-14.6},{"s":"RHCP 30.25 GHz","a":-10.5,"db":-13.9},{"s":"RHCP 30.25 GHz","a":-9.6,"db":-15},{"s":"RHCP 30.25 GHz","a":-8.6,"db":-20},{"s":"RHCP 30.25 GHz","a":-7.7,"db":-45},{"s":"RHCP 30.25 GHz","a":-7.1,"db":-24.5,"m":1},{"s":"RHCP 30.25 GHz","a":-6.5,"db":-16.6},{"s":"RHCP 30.25 GHz","a":-6.0,"db":-12.7},{"s":"RHCP 30.25 GHz","a":-5.0,"db":-7.8},{"s":"RHCP 30.25 GHz","a":-4.0,"db":-4.5},{"s":"RHCP 30.25 GHz","a":-3.0,"db":-2.4},{"s":"RHCP 30.25 GHz","a":-2.0,"db":-1.0},{"s":"RHCP 30.25 GHz","a":-1.0,"db":-0.26},{"s":"RHCP 30.25 GHz","a":0,"db":0},{"s":"RHCP 30.25 GHz","a":1.0,"db":-0.26},{"s":"RHCP 30.25 GHz","a":2.0,"db":-1.0},{"s":"RHCP 30.25 GHz","a":3.0,"db":-2.4,"m":1},{"s":"RHCP 30.25 GHz","a":4.0,"db":-4.5},{"s":"RHCP 30.25 GHz","a":5.0,"db":-7.8},{"s":"RHCP 30.25 GHz","a":6.0,"db":-12.7},{"s":"RHCP 30.25 GHz","a":6.5,"db":-16.6},{"s":"RHCP 30.25 GHz","a":7.0,"db":-23.5},{"s":"RHCP 30.25 GHz","a":7.6,"db":-45},{"s":"RHCP 30.25 GHz","a":8.6,"db":-20},{"s":"RHCP 30.25 GHz","a":9.6,"db":-15},{"s":"RHCP 30.25 GHz","a":10.4,"db":-14.1},{"s":"RHCP 30.25 GHz","a":11.4,"db":-15.2},{"s":"RHCP 30.25 GHz","a":12.9,"db":-20.4,"m":1},{"s":"RHCP 30.25 GHz","a":13.8,"db":-28},{"s":"RHCP 30.25 GHz","a":14.5,"db":-45},{"s":"RHCP 30.25 GHz","a":15.8,"db":-22},{"s":"RHCP 30.25 GHz","a":17.7,"db":-17.7},{"s":"RHCP 30.25 GHz","a":19.5,"db":-21},{"s":"RHCP 30.25 GHz","a":21.0,"db":-30},{"s":"RHCP 30.25 GHz","a":21.5,"db":-45},{"s":"RHCP 30.25 GHz","a":22.6,"db":-27},{"s":"RHCP 30.25 GHz","a":24.0,"db":-23.2,"m":1},{"s":"RHCP 30.25 GHz","a":25.3,"db":-22.3},{"s":"RHCP 30.25 GHz","a":26.8,"db":-24.5},{"s":"RHCP 30.25 GHz","a":28.6,"db":-33},{"s":"RHCP 30.25 GHz","a":29.2,"db":-45},{"s":"RHCP 30.25 GHz","a":31.0,"db":-27},{"s":"RHCP 30.25 GHz","a":33.0,"db":-21.8},{"s":"RHCP 30.25 GHz","a":34.0,"db":-21.2,"m":1},{"s":"RHCP 30.25 GHz","a":34.8,"db":-21.0},{"s":"RHCP 30.25 GHz","a":36.5,"db":-24.5},{"s":"RHCP 30.25 GHz","a":38.2,"db":-40},{"s":"RHCP 30.25 GHz","a":38.7,"db":-45},{"s":"RHCP 30.25 GHz","a":40.5,"db":-27.5},{"s":"RHCP 30.25 GHz","a":42.8,"db":-23.2},{"s":"RHCP 30.25 GHz","a":44.1,"db":-24.0,"m":1},{"s":"RHCP 30.25 GHz","a":46.0,"db":-29},{"s":"RHCP 30.25 GHz","a":47.7,"db":-45},{"s":"RHCP 30.25 GHz","a":50.3,"db":-28},{"s":"RHCP 30.25 GHz","a":52.7,"db":-23.4},{"s":"RHCP 30.25 GHz","a":54.0,"db":-23.8},{"s":"RHCP 30.25 GHz","a":54.8,"db":-24.9,"m":1},{"s":"RHCP 30.25 GHz","a":56.7,"db":-31},{"s":"RHCP 30.25 GHz","a":58.2,"db":-45},{"s":"RHCP 30.25 GHz","a":60.5,"db":-32},{"s":"RHCP 30.25 GHz","a":63.0,"db":-24},{"s":"RHCP 30.25 GHz","a":64.8,"db":-22.3},{"s":"RHCP 30.25 GHz","a":66.0,"db":-21.4,"m":1},{"s":"RHCP 30.25 GHz","a":67.2,"db":-21.0},{"s":"RHCP 30.25 GHz","a":68.8,"db":-24},{"s":"RHCP 30.25 GHz","a":70.3,"db":-31},{"s":"RHCP 30.25 GHz","a":71.3,"db":-45},{"s":"RHCP 30.25 GHz","a":73.5,"db":-30},{"s":"RHCP 30.25 GHz","a":75.9,"db":-22.7,"m":1},{"s":"RHCP 30.25 GHz","a":77.0,"db":-21.6},{"s":"RHCP 30.25 GHz","a":78.3,"db":-23.5},{"s":"RHCP 30.25 GHz","a":80.0,"db":-30},{"s":"RHCP 30.25 GHz","a":81.5,"db":-45},{"s":"RHCP 30.25 GHz","a":83.5,"db":-32},{"s":"RHCP 30.25 GHz","a":85.8,"db":-26.2,"m":1},{"s":"RHCP 30.25 GHz","a":87.0,"db":-25.0},{"s":"RHCP 30.25 GHz","a":88.8,"db":-27.0},

      {"s":"RHCP 31 GHz","a":-88.8,"db":-24.0,"m":1},{"s":"RHCP 31 GHz","a":-87.5,"db":-28},{"s":"RHCP 31 GHz","a":-86.0,"db":-35},{"s":"RHCP 31 GHz","a":-85.0,"db":-45},{"s":"RHCP 31 GHz","a":-83.0,"db":-28},{"s":"RHCP 31 GHz","a":-81.0,"db":-21.5},{"s":"RHCP 31 GHz","a":-79.5,"db":-20.3},{"s":"RHCP 31 GHz","a":-79.0,"db":-20.4,"m":1},{"s":"RHCP 31 GHz","a":-77.2,"db":-25},{"s":"RHCP 31 GHz","a":-75.6,"db":-45},{"s":"RHCP 31 GHz","a":-73.5,"db":-26},{"s":"RHCP 31 GHz","a":-71.5,"db":-19.5},{"s":"RHCP 31 GHz","a":-69.8,"db":-17.7},{"s":"RHCP 31 GHz","a":-69.0,"db":-17.8,"m":1},{"s":"RHCP 31 GHz","a":-67.0,"db":-22.5},{"s":"RHCP 31 GHz","a":-65.2,"db":-33},{"s":"RHCP 31 GHz","a":-64.2,"db":-45},{"s":"RHCP 31 GHz","a":-61.5,"db":-36},{"s":"RHCP 31 GHz","a":-58.7,"db":-30.0,"m":1},{"s":"RHCP 31 GHz","a":-56.5,"db":-23.5},{"s":"RHCP 31 GHz","a":-54.3,"db":-20.7},{"s":"RHCP 31 GHz","a":-52.7,"db":-20.4},{"s":"RHCP 31 GHz","a":-51.0,"db":-22.5},{"s":"RHCP 31 GHz","a":-48.1,"db":-29.3,"m":1},{"s":"RHCP 31 GHz","a":-46.5,"db":-45},{"s":"RHCP 31 GHz","a":-43.5,"db":-27},{"s":"RHCP 31 GHz","a":-41.2,"db":-35},{"s":"RHCP 31 GHz","a":-40.2,"db":-45},{"s":"RHCP 31 GHz","a":-37.5,"db":-31.5,"m":1},{"s":"RHCP 31 GHz","a":-36.0,"db":-21.5},{"s":"RHCP 31 GHz","a":-34.6,"db":-19.4},{"s":"RHCP 31 GHz","a":-33.0,"db":-21.5},{"s":"RHCP 31 GHz","a":-31.5,"db":-30},{"s":"RHCP 31 GHz","a":-30.8,"db":-45},{"s":"RHCP 31 GHz","a":-27.0,"db":-25.2,"m":1},{"s":"RHCP 31 GHz","a":-25.0,"db":-20.7},{"s":"RHCP 31 GHz","a":-23.5,"db":-23},{"s":"RHCP 31 GHz","a":-22.0,"db":-45},{"s":"RHCP 31 GHz","a":-19.2,"db":-21},{"s":"RHCP 31 GHz","a":-17.6,"db":-19.3},{"s":"RHCP 31 GHz","a":-17.0,"db":-19.5,"m":1},{"s":"RHCP 31 GHz","a":-15.3,"db":-23},{"s":"RHCP 31 GHz","a":-13.3,"db":-45},{"s":"RHCP 31 GHz","a":-12.0,"db":-16},{"s":"RHCP 31 GHz","a":-10.7,"db":-12.3},{"s":"RHCP 31 GHz","a":-9.2,"db":-14.5},{"s":"RHCP 31 GHz","a":-8.2,"db":-20},{"s":"RHCP 31 GHz","a":-7.4,"db":-45},{"s":"RHCP 31 GHz","a":-6.8,"db":-21},{"s":"RHCP 31 GHz","a":-6.3,"db":-15.2,"m":1},{"s":"RHCP 31 GHz","a":-5.6,"db":-11.3},{"s":"RHCP 31 GHz","a":-5.0,"db":-8.5},{"s":"RHCP 31 GHz","a":-4.0,"db":-5.0},{"s":"RHCP 31 GHz","a":-3.0,"db":-2.7},{"s":"RHCP 31 GHz","a":-2.0,"db":-1.2},{"s":"RHCP 31 GHz","a":-1.0,"db":-0.3},{"s":"RHCP 31 GHz","a":0,"db":0},{"s":"RHCP 31 GHz","a":1.0,"db":-0.3},{"s":"RHCP 31 GHz","a":2.0,"db":-1.2},{"s":"RHCP 31 GHz","a":3.0,"db":-2.7},{"s":"RHCP 31 GHz","a":4.1,"db":-5.2,"m":1},{"s":"RHCP 31 GHz","a":5.0,"db":-8.5},{"s":"RHCP 31 GHz","a":5.6,"db":-11.3},{"s":"RHCP 31 GHz","a":6.3,"db":-15.2},{"s":"RHCP 31 GHz","a":6.8,"db":-21},{"s":"RHCP 31 GHz","a":7.4,"db":-45},{"s":"RHCP 31 GHz","a":8.3,"db":-20},{"s":"RHCP 31 GHz","a":9.2,"db":-14.5},{"s":"RHCP 31 GHz","a":10.3,"db":-12.1},{"s":"RHCP 31 GHz","a":11.5,"db":-13.5},{"s":"RHCP 31 GHz","a":12.8,"db":-19},{"s":"RHCP 31 GHz","a":13.9,"db":-30},{"s":"RHCP 31 GHz","a":14.9,"db":-38.8,"m":1},{"s":"RHCP 31 GHz","a":15.3,"db":-45},{"s":"RHCP 31 GHz","a":16.5,"db":-24},{"s":"RHCP 31 GHz","a":18.2,"db":-19.6},{"s":"RHCP 31 GHz","a":19.8,"db":-24},{"s":"RHCP 31 GHz","a":21.0,"db":-45},{"s":"RHCP 31 GHz","a":23.0,"db":-24},{"s":"RHCP 31 GHz","a":25.1,"db":-20.2,"m":1},{"s":"RHCP 31 GHz","a":25.8,"db":-20.0},{"s":"RHCP 31 GHz","a":27.3,"db":-23},{"s":"RHCP 31 GHz","a":28.6,"db":-45},{"s":"RHCP 31 GHz","a":31.0,"db":-24},{"s":"RHCP 31 GHz","a":33.2,"db":-21.0},{"s":"RHCP 31 GHz","a":34.9,"db":-23.2,"m":1},{"s":"RHCP 31 GHz","a":36.5,"db":-30},{"s":"RHCP 31 GHz","a":37.5,"db":-45},{"s":"RHCP 31 GHz","a":39.5,"db":-27},{"s":"RHCP 31 GHz","a":42.0,"db":-21.8},{"s":"RHCP 31 GHz","a":43.5,"db":-23.5},{"s":"RHCP 31 GHz","a":45.0,"db":-29.0,"m":1},{"s":"RHCP 31 GHz","a":46.5,"db":-45},{"s":"RHCP 31 GHz","a":49.5,"db":-25},{"s":"RHCP 31 GHz","a":52.9,"db":-20.8},{"s":"RHCP 31 GHz","a":54.8,"db":-23.0,"m":1},{"s":"RHCP 31 GHz","a":56.5,"db":-29},{"s":"RHCP 31 GHz","a":58.3,"db":-45},{"s":"RHCP 31 GHz","a":61.0,"db":-33},{"s":"RHCP 31 GHz","a":64.8,"db":-26.4,"m":1},{"s":"RHCP 31 GHz","a":67.0,"db":-20},{"s":"RHCP 31 GHz","a":69.4,"db":-17.9},{"s":"RHCP 31 GHz","a":71.8,"db":-22},{"s":"RHCP 31 GHz","a":73.2,"db":-45},{"s":"RHCP 31 GHz","a":75.0,"db":-25.5,"m":1},{"s":"RHCP 31 GHz","a":77.0,"db":-21.5},{"s":"RHCP 31 GHz","a":78.8,"db":-20.7},{"s":"RHCP 31 GHz","a":80.5,"db":-23.5},{"s":"RHCP 31 GHz","a":82.3,"db":-45},{"s":"RHCP 31 GHz","a":85.0,"db":-34.0,"m":1},{"s":"RHCP 31 GHz","a":86.5,"db":-28},{"s":"RHCP 31 GHz","a":88.8,"db":-25}
    ]
  },
  "data": {"name": "curves"},
  "encoding": {
    "x": {
      "field": "a", "type": "quantitative",
      "scale": {"domain": [-88.8, 88.8], "nice": false, "zero": false},
      "axis": {"values": [-80, -60, -40, -20, 0, 20, 40, 60, 80], "title": "Angle (degrees)", "labelPadding": 7, "titlePadding": 11}
    },
    "y": {
      "field": "db", "type": "quantitative",
      "scale": {"domain": [-40, 0], "nice": false, "zero": false},
      "axis": {"values": [-40, -30, -20, -10, 0], "title": "Normalized amplitude (dB)", "labelPadding": 7, "titlePadding": 8}
    }
  },
  "layer": [
    {"transform": [{"filter": "datum.s == 'LHCP 29.5 GHz'"}],
     "mark": {"type": "line", "interpolate": "monotone", "strokeWidth": 3.2, "clip": true},
     "encoding": {"color": {"field": "s", "type": "nominal",
       "scale": {"domain": ["LHCP 29.5 GHz", "LHCP 30.25 GHz", "LHCP 31 GHz", "RHCP 29.5 GHz", "RHCP 30.25 GHz", "RHCP 31 GHz"],
                 "range": ["#19c819", "#6b006b", "#ea7a0c", "#0000ff", "#ff0000", "#178f8f"]},
       "legend": {
         "title": null, "orient": "none", "legendX": -77, "legendY": -76, "columns": 3, "direction": "horizontal",
         "symbolSize": 1600, "symbolType": "M-1,0H1",
         "encode": {"symbols": {"update": {
           "shape": {"signal": "substring(datum.value, 5, 7) == '29' ? 'M-1,0H1M-0.22,-0.22H0.22V0.22H-0.22Z' : substring(datum.value, 5, 7) == '30' ? 'M-1,0H1M0,-0.32L0.22,0L0,0.32L-0.22,0Z' : 'M-1,0H1M0.22,0A0.22,0.22,0,1,1,-0.22,0A0.22,0.22,0,1,1,0.22,0Z'"},
           "fillOpacity": {"signal": "datum.value == 'RHCP 29.5 GHz' || datum.value == 'RHCP 31 GHz' ? 0 : 1"},
           "strokeWidth": {"signal": "datum.value == 'RHCP 31 GHz' ? 1.1 : 3"},
           "opacity": {"value": 1}
         }}}
       }}}},
    {"transform": [{"filter": "datum.s == 'LHCP 29.5 GHz' && datum.m == 1"}],
     "mark": {"type": "point", "shape": "square", "filled": true, "size": 85, "opacity": 1, "strokeWidth": 1},
     "encoding": {"color": {"field": "s", "type": "nominal"}}},

    {"transform": [{"filter": "datum.s == 'LHCP 30.25 GHz'"}],
     "mark": {"type": "line", "interpolate": "monotone", "strokeWidth": 3.2, "clip": true},
     "encoding": {"color": {"field": "s", "type": "nominal"}}},
    {"transform": [{"filter": "datum.s == 'LHCP 30.25 GHz' && datum.m == 1"}],
     "mark": {"type": "point", "shape": "diamond", "filled": true, "size": 90, "opacity": 1, "strokeWidth": 1},
     "encoding": {"color": {"field": "s", "type": "nominal"}}},

    {"transform": [{"filter": "datum.s == 'LHCP 31 GHz'"}],
     "mark": {"type": "line", "interpolate": "monotone", "strokeWidth": 3.2, "clip": true},
     "encoding": {"color": {"field": "s", "type": "nominal"}}},
    {"transform": [{"filter": "datum.s == 'LHCP 31 GHz' && datum.m == 1"}],
     "mark": {"type": "point", "shape": "circle", "filled": true, "size": 85, "opacity": 1, "strokeWidth": 1},
     "encoding": {"color": {"field": "s", "type": "nominal"}}},

    {"transform": [{"filter": "datum.s == 'RHCP 29.5 GHz'"}],
     "mark": {"type": "line", "interpolate": "monotone", "strokeWidth": 3.2, "clip": true},
     "encoding": {"color": {"field": "s", "type": "nominal"}}},
    {"transform": [{"filter": "datum.s == 'RHCP 29.5 GHz' && datum.m == 1"}],
     "mark": {"type": "point", "shape": "square", "filled": false, "size": 80, "opacity": 1, "strokeWidth": 2},
     "encoding": {"color": {"field": "s", "type": "nominal"}}},

    {"transform": [{"filter": "datum.s == 'RHCP 30.25 GHz'"}],
     "mark": {"type": "line", "interpolate": "monotone", "strokeWidth": 3.2, "clip": true},
     "encoding": {"color": {"field": "s", "type": "nominal"}}},
    {"transform": [{"filter": "datum.s == 'RHCP 30.25 GHz' && datum.m == 1"}],
     "mark": {"type": "point", "shape": "diamond", "filled": true, "size": 100, "opacity": 1, "strokeWidth": 1},
     "encoding": {"color": {"field": "s", "type": "nominal"}}},

    {"transform": [{"filter": "datum.s == 'RHCP 31 GHz'"}],
     "mark": {"type": "line", "interpolate": "monotone", "strokeWidth": 1.1, "clip": true},
     "encoding": {"color": {"field": "s", "type": "nominal"}}},
    {"transform": [{"filter": "datum.s == 'RHCP 31 GHz' && datum.m == 1"}],
     "mark": {"type": "point", "shape": "circle", "filled": false, "size": 75, "opacity": 1, "strokeWidth": 1.1},
     "encoding": {"color": {"field": "s", "type": "nominal"}}}
  ],
  "title": {"text": "(a)", "orient": "bottom", "anchor": "middle", "font": "DejaVu Serif", "fontSize": 19, "fontWeight": "normal", "color": "#000", "offset": 17}
}
